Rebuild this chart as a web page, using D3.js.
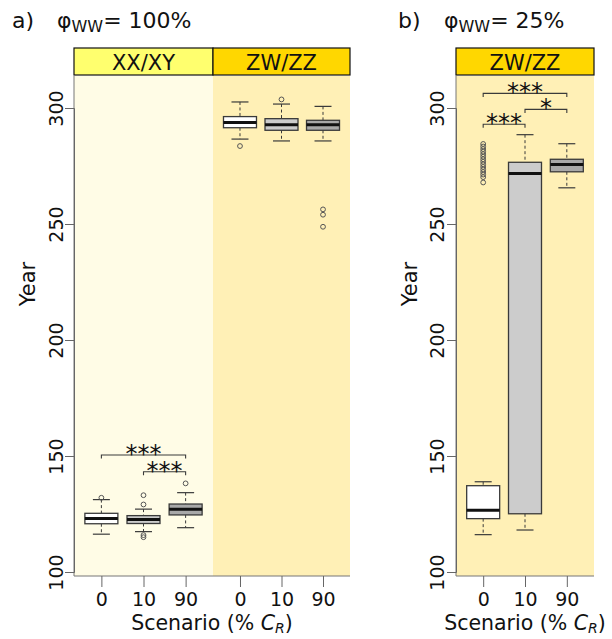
<!DOCTYPE html>
<html>
<head>
<meta charset="utf-8">
<script src="https://cdn.jsdelivr.net/npm/d3@7"></script>
<style>
  html, body { margin: 0; padding: 0; background: #fff; }
  svg text { font-family: "DejaVu Sans", sans-serif; fill: #111; }
</style>
</head>
<body>
<svg id="chart" width="612" height="639"></svg>
<script>
// ---- data ----------------------------------------------------------------
const scenarios = ["0", "10", "90"];
const yTicks = [100, 150, 200, 250, 300];

// box statistics: [lower whisker, Q1, median, Q3, upper whisker]
const statsA_XX = [
  [116.3, 120.8, 123.1, 125.3, 131.2],
  [117.4, 120.9, 122.6, 124.3, 127.1],
  [119.1, 124.6, 127.0, 129.3, 134.2]
];
const outA_XX = [
  [132.0],
  [133.1, 129.1, 115.9, 115.0],
  [138.2]
];
const statsA_ZW = [
  [286.6, 291.5, 293.8, 296.3, 302.6],
  [285.8, 290.4, 292.8, 295.4, 301.7],
  [285.8, 290.4, 292.8, 294.7, 300.7]
];
const outA_ZW = [
  [283.6],
  [303.7],
  [256.3, 254.0, 248.8]
];
const statsB_ZW = [
  [116.1, 123.0, 126.6, 137.2, 138.9],
  [118.1, 125.1, 271.8, 276.6, 288.5],
  [265.6, 272.5, 275.7, 277.9, 284.6]
];
const outB_ZW = [
  [284.5, 283.4, 282.3, 281.2, 280.1, 279.0, 277.9, 276.8, 275.7, 274.6, 273.5, 272.4, 271.3, 270.2, 267.9],
  [],
  []
];

// significance brackets: [from scenario, to scenario, height (years), label]
const sigA_XX = [["0", "90", 150.4, "***"], ["10", "90", 143.2, "***"]];
const sigB_ZW = [["0", "90", 306.3, "***"], ["10", "90", 299.4, "*"], ["0", "10", 293.0, "***"]];

const boxFills = ["#ffffff", "#cccccc", "#a8a8a8"];

// ---- drawing -------------------------------------------------------------
const svg = d3.select("#chart");
const y = d3.scaleLinear().domain([100, 300]).range([572, 108]);
const plotTop = 76, plotBottom = 576;
const stroke = "#3a3a3a";

function drawGroup(g, x0, x1, bg, head, headFill, stats, outs, sigs) {
  const x = d3.scalePoint().domain(scenarios).range([x0, x1]).padding(0.65);
  g.append("rect").attr("x", x0).attr("y", plotTop).attr("width", x1 - x0)
    .attr("height", plotBottom - plotTop).attr("fill", bg);
  g.append("rect").attr("x", x0).attr("y", 48).attr("width", x1 - x0).attr("height", 27)
    .attr("fill", headFill).attr("stroke", "#111").attr("stroke-width", 1.2);
  g.append("text").attr("x", (x0 + x1) / 2).attr("y", 70).attr("text-anchor", "middle")
    .attr("font-size", 21).text(head);

  const bw = 33, cw = 17;
  scenarios.forEach((s, i) => {
    const [lw, q1, med, q3, hw] = stats[i];
    const cx = x(s);
    const b = g.append("g");
    b.append("line").attr("x1", cx).attr("x2", cx).attr("y1", y(hw)).attr("y2", y(q3))
      .attr("stroke", stroke).attr("stroke-dasharray", "3,2.5");
    b.append("line").attr("x1", cx).attr("x2", cx).attr("y1", y(q1)).attr("y2", y(lw))
      .attr("stroke", stroke).attr("stroke-dasharray", "3,2.5");
    b.append("line").attr("x1", cx - cw / 2).attr("x2", cx + cw / 2).attr("y1", y(hw)).attr("y2", y(hw))
      .attr("stroke", stroke).attr("stroke-width", 1.2);
    b.append("line").attr("x1", cx - cw / 2).attr("x2", cx + cw / 2).attr("y1", y(lw)).attr("y2", y(lw))
      .attr("stroke", stroke).attr("stroke-width", 1.2);
    b.append("rect").attr("x", cx - bw / 2).attr("y", y(q3)).attr("width", bw)
      .attr("height", y(q1) - y(q3)).attr("fill", boxFills[i]).attr("stroke", stroke).attr("stroke-width", 1.3);
    b.append("line").attr("x1", cx - bw / 2).attr("x2", cx + bw / 2).attr("y1", y(med)).attr("y2", y(med))
      .attr("stroke", "#111").attr("stroke-width", 3);
    b.selectAll("circle").data(outs[i]).join("circle")
      .attr("cx", cx).attr("cy", d => y(d)).attr("r", 2.4)
      .attr("fill", "none").attr("stroke", "#555").attr("stroke-width", 1);
  });

  sigs.forEach(([a, bName, h, lab]) => {
    const xa = x(a), xb = x(bName), yy = y(h);
    g.append("path").attr("d", `M${xa},${yy + 3.5}V${yy}H${xb}V${yy + 3.5}`)
      .attr("fill", "none").attr("stroke", stroke).attr("stroke-width", 1.1);
    g.append("text").attr("x", (xa + xb) / 2).attr("y", yy + 7).attr("text-anchor", "middle")
      .attr("font-size", 24).text(lab);
  });
  return x;
}

function drawAxes(px0, px1, xScales, yLabelX, tickLabelX) {
  // L-shaped frame
  svg.append("path").attr("d", `M${px0},${plotTop}V${plotBottom}H${px1}`)
    .attr("fill", "none").attr("stroke", "#777").attr("stroke-width", 1);
  // y axis
  const ya = svg.append("g").attr("transform", `translate(${px0},0)`)
    .call(d3.axisLeft(y).tickValues(yTicks).tickSize(9).tickFormat(d3.format("d")));
  ya.select(".domain").attr("stroke", "#666");
  ya.selectAll(".tick line").attr("stroke", "#666");
  ya.selectAll(".tick text").attr("font-size", 19).attr("font-family", "DejaVu Sans")
    .attr("fill", "#111").attr("text-anchor", "middle").attr("dy", 0)
    .attr("x", 0).attr("y", 0)
    .attr("transform", `translate(${tickLabelX - px0},0) rotate(-90)`);
  // x ticks per group
  xScales.forEach(xs => {
    const xa = svg.append("g").attr("transform", `translate(0,${plotBottom})`)
      .call(d3.axisBottom(xs).tickSize(11).tickPadding(6));
    xa.select(".domain").remove();
    xa.selectAll(".tick line").attr("stroke", "#666");
    xa.selectAll(".tick text").attr("font-size", 19).attr("font-family", "DejaVu Sans").attr("fill", "#111");
  });
  // axis titles
  svg.append("text").attr("transform", `translate(${yLabelX},284) rotate(-90)`)
    .attr("text-anchor", "middle").attr("font-size", 21).text("Year");
  const st = svg.append("text").attr("x", (px0 + px1) / 2).attr("y", 630)
    .attr("text-anchor", "middle").attr("font-size", 20.5);
  st.append("tspan").text("Scenario (% ");
  st.append("tspan").attr("font-style", "italic").text("C");
  st.append("tspan").attr("font-style", "italic").attr("font-size", 14).attr("dy", 3).text("R");
  st.append("tspan").attr("dy", -3).text(")");
}

function drawTitle(x0, xPhi, letter, pct) {
  svg.append("text").attr("x", x0).attr("y", 28).attr("font-size", 22).text(letter + ")");
  const t = svg.append("text").attr("x", xPhi).attr("y", 28).attr("font-size", 22);
  t.append("tspan").text("φ");
  t.append("tspan").attr("font-size", 16).attr("dy", 4).text("WW");
  t.append("tspan").attr("dy", -4).text("= " + pct);
}

// panel a
const gA = svg.append("g");
const xA1 = drawGroup(gA, 74, 213, "#fffce6", "XX/XY", "#ffff6e", statsA_XX, outA_XX, sigA_XX);
const xA2 = drawGroup(gA, 213, 350, "#fff0b6", "ZW/ZZ", "#ffd700", statsA_ZW, outA_ZW, []);
drawAxes(74, 350, [xA1, xA2], 35, 63);
drawTitle(12, 57, "a", "100%");

// panel b
const gB = svg.append("g");
const xB = drawGroup(gB, 456, 594, "#fff0b6", "ZW/ZZ", "#ffd700", statsB_ZW, outB_ZW, sigB_ZW);
drawAxes(456, 594, [xB], 417, 444);
drawTitle(398, 444, "b", "25%");
</script>
</body>
</html>
